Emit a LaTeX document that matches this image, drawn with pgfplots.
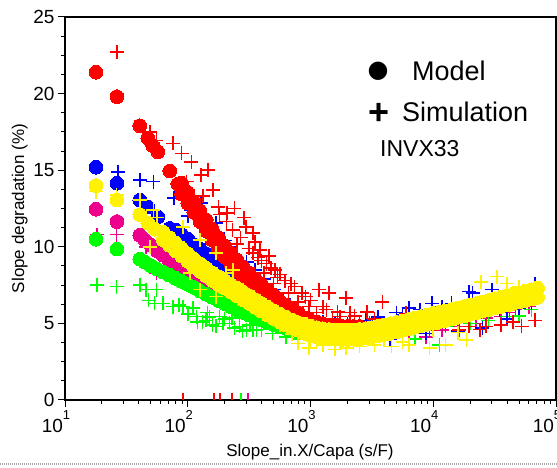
\documentclass[border=0pt]{standalone}
\usepackage{fontspec}
\setmainfont{Liberation Sans}
\newfontfamily\dejavu{DejaVu Sans}
\usepackage{pgfplots}
\pgfplotsset{compat=1.18}
\newcommand{\tl}[1]{10\raisebox{13pt}{\fontsize{13}{13}\selectfont #1}}
\pgfplotsset{
  mdl/.style={only marks, mark=*, mark size=6.9pt, line width=0pt, mark options={draw=#1, fill=#1}},
  sim/.style={only marks, mark=+, mark size=7pt, line width=1.6pt, color=#1},
}
\begin{document}
\begin{tikzpicture}
\begin{axis}[
  at={(0pt,0pt)}, anchor=south west,
  scale only axis, width=491pt, height=383pt,
  xmode=log, xmin=10, xmax=100000, ymin=0, ymax=25,
  xtick={10,100,1000,10000,100000},
  xticklabels={\tl{1},\tl{2},\tl{3},\tl{4},\tl{5}},
  ytick={0,5,10,15,20,25},
  minor y tick num=3,
  xtick pos=bottom, ytick pos=left,
  tick align=outside,
  major tick length=7pt, minor tick length=4pt,
  every tick/.style={black, line width=1pt},
  axis line style={black, line width=1.2pt},
  /pgf/number format/assume math mode=true,
  tick label style={font=\fontsize{19}{19}\selectfont},
  xticklabel style={xshift=-9pt},
  xlabel={Slope\_in.X/Capa (s/F)},
  ylabel={Slope degradation (\%)},
  label style={font=\fontsize{17}{17}\selectfont},
  xlabel style={at={(axis description cs:0.499,-0.136)}, anchor=center},
  ylabel style={at={(axis description cs:-0.092,0.5)}, anchor=center},
]
% ---------------- magenta ----------------
\addplot[mdl=magenta] table {
x y
17.9 12.45
26.5 11.65
40.7 10.75
44.7 10.45
50.1 10.1
56.2 9.75
63.1 9.45
70.8 9.1
79.4 8.8
89.1 8.5
100 8.2
112.2 7.95
125.9 7.7
141.3 7.5
158.5 7.25
177.8 7.0
199.5 6.75
223.9 6.5
251.2 6.3
281.8 6.1
316.2 5.9
354.8 5.7
398.1 5.5
446.7 5.3
501.2 5.1
631.0 4.8
794.3 4.55
1000 4.35
1259 4.25
1585 4.2
1995 4.25
2512 4.3
3162 4.42
3981 4.58
5012 4.76
6310 4.95
7943 5.15
10000 5.35
12590 5.5
15850 5.7
19950 5.9
25120 6.1
31620 6.3
39810 6.5
50120 6.7
63100 6.9
};
\addplot[sim=magenta] table {
x y
18.2 10.8
26.3 10.8
45.7 8.9
55.6 8.3
45.7 10.0
70.8 9.35
75.9 9.6
104.7 8.7
125.9 7.4
158.5 7.2
199.5 6.5
251.2 6.0
316.2 5.6
398.1 5.2
501.2 5.0
631.0 4.75
1000 4.6
1585 4.5
1995 4.8
2512 4.4
3981 4.3
6310 4.4
8710 4.13
11750 4.55
15850 4.8
22390 5.0
26920 5.35
35480 5.45
41690 5.7
46770 5.9
60260 6.1
63100 6.5
};
% ---------------- green ----------------
\addplot[mdl=green] table {
x y
17.9 10.5
26.5 9.85
40.7 9.2
44.7 9.0
50.1 8.78
56.2 8.55
63.1 8.35
70.8 8.15
79.4 7.95
89.1 7.75
100 7.55
112.2 7.35
125.9 7.12
141.3 6.9
158.5 6.7
177.8 6.5
199.5 6.3
223.9 6.1
251.2 5.9
281.8 5.72
316.2 5.55
354.8 5.38
398.1 5.22
446.7 5.07
501.2 4.93
562.3 4.8
631.0 4.68
707.9 4.57
794.3 4.47
1000 4.3
1259 4.2
1585 4.15
1995 4.25
2512 4.3
3162 4.42
3981 4.58
5012 4.76
6310 4.95
7943 5.15
10000 5.35
12590 5.5
15850 5.7
19950 5.9
25120 6.1
31620 6.3
39810 6.5
50120 6.7
63100 6.9
};
\addplot[sim=green] table {
x y
18.2 7.5
26.3 7.4
40.7 7.5
45.7 7.2
55.6 7.2
47.9 6.5
53.7 6.3
63.1 6.3
75.9 6.1
85.0 6.2
91.2 6.1
100 5.6
110.0 6.0
117.5 5.45
120.0 5.1
141.3 5.2
144.5 5.7
150.0 5.4
170.0 4.8
182.0 5.45
192.8 5.0
200.0 5.3
131.8 5.1
158.5 4.9
218.8 5.0
240.0 4.7
263.0 4.8
280.0 4.5
302.0 4.6
320.0 4.9
338.8 4.55
363.1 4.55
400.0 4.6
229.1 5.35
489.8 4.35
631.0 4.1
794.3 4.0
1000 3.9
1585 3.8
2512 3.8
3981 3.9
7079 4.0
11220 3.6
12590 4.8
19950 5.0
28180 5.2
39810 5.45
50120 5.5
63100 5.9
};
% ---------------- blue ----------------
\addplot[mdl=blue] table {
x y
17.9 15.2
26.5 14.15
40.7 13.05
47.3 12.6
57.0 11.95
71.4 11.2
79.4 11.1
89.1 10.8
100 10.5
112.2 10.15
125.9 9.85
141.3 9.55
158.5 9.25
177.8 9.0
199.5 8.7
223.9 8.45
251.2 8.15
281.8 7.9
316.2 7.63
354.8 7.35
398.1 7.05
446.7 6.78
501.2 6.5
562.3 6.22
631.0 5.95
707.9 5.7
794.3 5.45
891.3 5.22
1000 5.05
1122 4.92
1259 4.82
1413 4.74
1585 4.68
1995 4.62
2512 4.62
3162 4.42
3981 4.58
5012 4.76
6310 4.95
7943 5.15
10000 5.35
12590 5.5
15850 5.7
19950 5.9
25120 6.1
31620 6.3
39810 6.5
50120 6.7
63100 6.9
};
\addplot[sim=blue] table {
x y
27.1 14.9
40.7 14.35
52.5 14.25
77.6 13.2
91.2 13.4
107.2 12.4
128.8 12.85
100 12.0
138.0 9.8
169.8 11.55
158.5 11.3
177.8 10.9
218.8 10.0
199.5 10.4
263.0 9.1
223.9 9.8
302.0 9.0
354.8 8.5
416.9 7.9
501.2 7.2
602.6 6.6
707.9 6.0
851.1 5.6
1000 5.3
1259 5.1
1585 4.95
1995 4.95
2818 5.2
3548 5.4
4467 4.0
5012 5.7
5623 5.55
6310 6.0
7762 5.9
8710 4.35
9772 6.3
11750 6.1
14130 6.3
15850 4.5
19500 7.07
20890 7.0
25120 4.7
30200 7.2
34670 5.9
39810 5.3
50120 6.0
63100 6.3
67610 7.6
};
% ---------------- red ----------------
\addplot[mdl=red] table {
x y
17.9 21.4
26.5 19.8
40.7 17.9
47.3 17.1
51.9 16.6
57.0 16.2
71.4 14.95
83.0 14.1
89.1 14.15
89.1 13.45
100 13.55
100 12.85
112.2 12.95
112.2 12.25
125.9 12.35
125.9 11.65
141.3 11.75
141.3 11.05
158.5 11.15
158.5 10.45
177.8 10.6
177.8 9.9
199.5 10.05
199.5 9.35
223.9 9.6
223.9 8.9
251.2 9.15
251.2 8.45
281.8 8.7
281.8 8.0
316.2 8.3
316.2 7.6
354.8 7.9
354.8 7.2
398.1 7.55
398.1 6.85
446.7 7.2
446.7 6.5
501.2 6.85
501.2 6.15
562.3 6.45
562.3 5.95
631.0 6.2
631.0 5.7
707.9 5.95
707.9 5.45
794.3 5.7
794.3 5.3
891.3 5.33
1000 5.2
1122 5.08
1259 4.98
1413 4.9
1585 4.85
1778 4.82
1995 4.8
2239 4.8
2512 4.8
3162 4.42
3981 4.58
5012 4.76
6310 4.95
7943 5.15
10000 5.35
12590 5.5
15850 5.7
19950 5.9
25120 6.1
31620 6.3
39810 6.5
50120 6.7
63100 6.9
};
\addplot[sim=red] table {
x y
26.6 22.7
49.0 17.5
55.6 16.95
75.9 16.75
89.1 16.1
107.2 15.55
128.8 14.7
146.2 15.0
97.7 14.25
160.3 13.7
133.4 13.3
177.8 12.6
208.9 12.2
239.9 12.5
182.0 12.1
288.4 11.9
206.5 11.65
232.3 11.1
299.9 11.3
338.8 10.9
269.2 10.6
251.2 10.2
316.2 9.9
338.8 9.6
389.0 9.8
354.8 10.3
371.5 9.3
398.1 9.1
436.5 8.9
457.1 9.4
478.6 8.6
512.9 8.5
416.9 8.3
537.0 8.0
562.3 8.2
616.6 7.8
501.2 7.6
691.8 7.6
741.3 7.4
660.7 7.0
851.1 7.0
912.0 6.75
794.3 6.4
1000 6.5
1175 7.2
1413 7.0
977.2 6.1
1259 6.1
1122 5.7
1349 5.9
1950 6.65
2089 5.7
2291 5.5
2884 5.75
2512 5.1
1738 5.45
1660 5.75
1514 5.3
3846 6.4
3311 5.3
3020 5.0
6026 5.65
3631 4.7
5012 4.9
7079 4.9
9333 4.55
10000 5.1
12590 4.9
16220 4.55
19500 4.8
23990 4.6
26920 4.8
35480 4.9
44670 5.1
52480 4.8
67610 5.2
};
% ---------------- yellow ----------------
\addplot[mdl=yellow] table {
x y
17.9 14.0
26.5 13.05
40.7 12.1
47.3 11.55
53.7 11.15
63.1 10.95
63.1 10.45
70.8 10.6
70.8 10.1
79.4 10.25
79.4 9.75
89.1 9.9
89.1 9.4
100 9.55
100 9.05
112.2 9.2
112.2 8.7
125.9 8.9
125.9 8.4
141.3 8.6
141.3 8.1
158.5 8.3
158.5 7.8
177.8 8.05
177.8 7.55
199.5 7.8
199.5 7.3
223.9 7.55
223.9 7.05
251.2 7.3
251.2 6.8
281.8 7.05
281.8 6.55
316.2 6.8
316.2 6.3
354.8 6.55
354.8 6.05
398.1 6.3
398.1 5.8
446.7 6.05
446.7 5.55
501.2 5.82
501.2 5.32
562.3 5.6
562.3 5.1
631.0 5.4
631.0 4.9
707.9 5.22
707.9 4.72
794.3 5.05
794.3 4.55
891.3 4.95
891.3 4.35
1000 4.82
1000 4.22
1122 4.72
1122 4.12
1259 4.65
1259 4.05
1413 4.6
1413 4.0
1585 4.57
1585 3.97
1778 4.55
1778 3.95
1995 4.55
1995 3.95
2239 4.57
2239 3.97
2512 4.6
2512 4.0
2818 4.65
2818 4.05
3162 4.72
3162 4.12
3548 4.8
3548 4.2
3981 4.88
3981 4.28
4467 4.97
4467 4.37
5012 5.06
5012 4.46
5623 5.15
5623 4.55
6310 5.25
6310 4.65
7079 5.35
7079 4.75
7943 5.45
7943 4.85
8913 5.55
8913 4.95
10000 5.65
10000 5.05
11220 5.72
11220 5.12
12590 5.8
12590 5.2
14130 5.9
14130 5.3
15850 6.0
15850 5.4
17780 6.1
17780 5.5
19950 6.2
19950 5.6
22390 6.3
22390 5.7
25120 6.4
25120 5.8
28180 6.5
28180 5.9
31620 6.6
31620 6.0
35480 6.7
35480 6.1
39810 6.8
39810 6.2
44670 6.9
44670 6.3
50120 7.0
50120 6.4
56230 7.1
56230 6.5
63100 7.2
63100 6.6
70790 7.3
70790 6.7
};
\addplot[sim=yellow] table {
x y
17.8 13.6
26.3 13.4
40.7 13.05
52.5 12.4
56.2 11.9
49.0 10.0
91.2 11.3
125.9 10.45
169.8 9.6
204.2 8.3
281.8 7.2
302.0 6.75
104.7 8.3
125.9 7.2
169.8 6.75
234.4 8.5
380.2 6.3
446.7 5.6
562.3 4.9
707.9 4.3
794.3 3.7
1000 3.9
977.2 3.4
1122 3.8
1259 3.6
1585 3.3
1950 3.4
2239 3.7
2512 3.5
3311 3.6
3981 3.9
4571 3.5
5623 3.8
6310 3.6
9333 3.4
10000 4.6
12590 3.6
15850 4.4
18620 3.9
24550 7.7
33110 8.05
39810 7.6
50120 7.4
};
% ---------------- rug marks ----------------
\addplot[red, ycomb, line width=1.6pt, mark=none] coordinates {(91.6,0.45) (164,0.45) (183,0.45) (230,0.45)};
\addplot[green, ycomb, line width=1.6pt, mark=none] coordinates {(272,0.45)};
\addplot[magenta, ycomb, line width=1.6pt, mark=none] coordinates {(310,0.45)};
\end{axis}
% legend-like annotations
\node[anchor=center, inner sep=0pt] at (313pt,329pt) {\dejavu\fontsize{24}{24}\selectfont ●};
\node[anchor=base west, inner sep=0pt] at (347pt,319pt) {\fontsize{27}{27}\selectfont Model};
\node[anchor=center, inner sep=0pt] at (314.5pt,286pt) {\fontsize{36}{36}\selectfont\bfseries +};
\node[anchor=base west, inner sep=0pt] at (337pt,278pt) {\fontsize{27}{27}\selectfont Simulation};
\node[anchor=base west, inner sep=0pt] at (315pt,243pt) {\fontsize{23}{23}\selectfont INVX33};
\draw[black!35, line width=2.5pt, dash pattern=on 1pt off 1pt] (-65pt,-64pt) -- (492pt,-64pt);
\pgfresetboundingbox
\path[use as bounding box] (-65pt,-68pt) rectangle (492pt,400pt);
\end{tikzpicture}
\end{document}
